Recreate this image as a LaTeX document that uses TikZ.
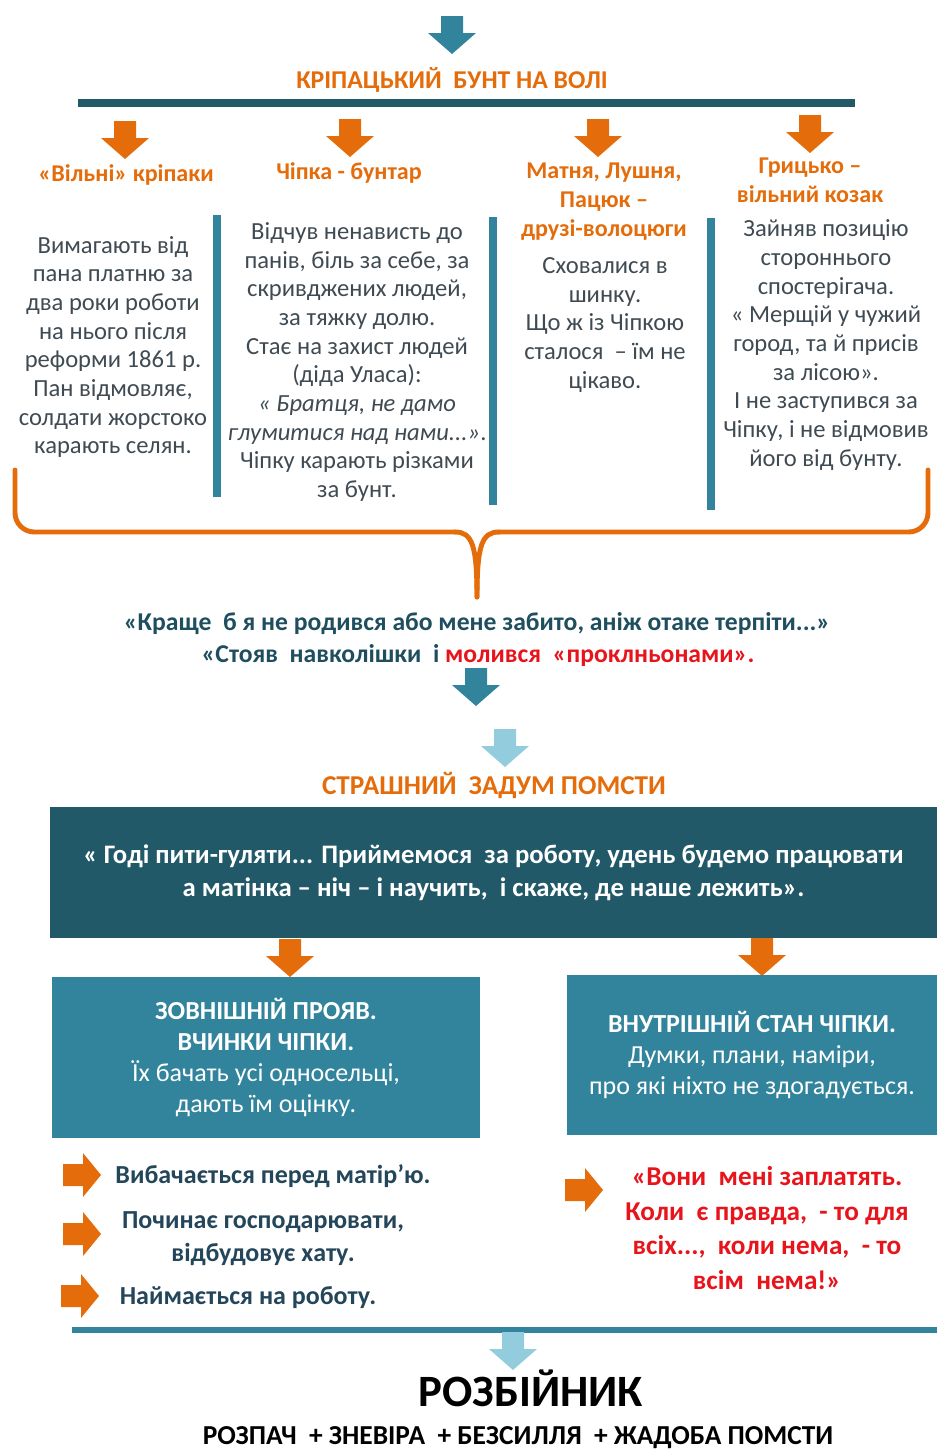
\documentclass[tikz,border=0pt]{standalone}
\usepackage{fontspec}
\setmainfont{Carlito}
\usetikzlibrary{positioning}

\definecolor{orng}{HTML}{E46C0A}
\definecolor{tealdk}{HTML}{215968}
\definecolor{tealmd}{HTML}{31849B}
\definecolor{ltblue}{HTML}{93CDDD}
\definecolor{txtgr}{HTML}{3F4A52}
\definecolor{qteal}{HTML}{1F4E5F}
\definecolor{bultx}{HTML}{24465A}
\definecolor{redq}{HTML}{E8141C}

\begin{document}
\begin{tikzpicture}[x=0.02cm,y=-0.02cm,
  hd/.style={text=orng,font=\bfseries\fontsize{13.7}{16.5}\selectfont,align=center,inner sep=0pt},
  body/.style={text=txtgr,font=\fontsize{14}{16.3}\selectfont,align=center,inner sep=0pt},
  quote/.style={text=qteal,font=\bfseries\fontsize{14.6}{18}\selectfont,inner sep=0pt},
  bultext/.style={text=bultx,font=\bfseries\fontsize{14.8}{18.7}\selectfont,align=center,inner sep=0pt},
  box/.style={fill=tealmd,text=white,align=center,inner sep=0pt,font=\fontsize{14.8}{17.6}\selectfont},
  bar/.style={tealmd,line width=4pt},
  brace/.style={orng,line width=2.8pt,line cap=round,line join=round},
  dnarr/.pic={\path[pic actions] (-11,-17) -- (11,-17) -- (11,0) -- (24,0) -- (0,21) -- (-24,0) -- (-11,0) -- cycle;},
  rtarr/.pic={\path[pic actions] (-20,-11) -- (0,-11) -- (0,-22) -- (18,0) -- (0,22) -- (0,11) -- (-20,11) -- cycle;}
]
\useasboundingbox (0,0) rectangle (937,1450);

% top of the scheme
\pic[fill=tealmd] at (452,33) {dnarr};
\node[hd,font=\bfseries\fontsize{14.6}{16.5}\selectfont] (revolt) at (452,80) {КРІПАЦЬКИЙ\ \ БУНТ НА ВОЛІ};
\coordinate (tl) at (78,103);
\coordinate (tr) at (855,103);
\draw[tealdk,line width=4pt] (tl) -- (tr);

\pic[fill=orng] at (125,138) {dnarr};
\pic[fill=orng] at (350,136) {dnarr};
\pic[fill=orng] at (598,136) {dnarr};
\pic[fill=orng] at (810,132) {dnarr};

\node[hd] (serfs) at (126,175) {«Вільні» кріпаки};
\node[hd] (chipka) at (349,173) {Чіпка - бунтар};
\node[hd] (friends) at (604,202) {Матня, Лушня,\\Пацюк –\\друзі-волоцюги};
\node[hd] (hryts) at (810,180) {Грицько –\\вільний козак};

% columns
\coordinate (b1t) at (217,215); \coordinate (b1b) at (217,497);
\coordinate (b2t) at (493,217); \coordinate (b2b) at (493,505);
\coordinate (b3t) at (711,218); \coordinate (b3b) at (711,510);
\draw[bar] (b1t) -- (b1b);
\draw[bar] (b2t) -- (b2b);
\draw[bar] (b3t) -- (b3b);

\node[body] (col1) at (113,347) {Вимагають від\\пана платню за\\два роки роботи\\на нього після\\реформи 1861 р.\\Пан відмовляє,\\солдати жорстоко\\карають селян.};
\node[body] (col2) at (357,362) {Відчув ненависть до\\панів, біль за себе, за\\скривджених людей,\\за тяжку долю.\\Стає на захист людей\\(діда Уласа):\\\textit{« Братця, не дамо}\\\textit{глумитися над нами...»}.\\Чіпку карають різками\\за бунт.};
\node[body] (col3) at (605,325) {Сховалися в\\шинку.\\Що ж із Чіпкою\\сталося\ \ – їм не\\цікаво.};
\node[body] (col4) at (826,345) {Зайняв позицію\\стороннього\\спостерігача.\\« Мерщій у чужий\\город, та й присів\\за лісою».\\І не заступився за\\Чіпку, і не відмовив\\його від бунту.};

% brace
\coordinate (brl) at (15,470);
\coordinate (brr) at (928,470);
\coordinate (brtip) at (477,597);
\draw[brace,rounded corners=11pt] (brl) -- (15,532) -- (455,532);
\draw[brace] (455,532) .. controls (472,532) and (477,545) .. (brtip);
\draw[brace,rounded corners=11pt] (brr) -- (928,532) -- (499,532);
\draw[brace] (499,532) .. controls (482,532) and (477,545) .. (brtip);

\node[quote] (q1) at (477,624) {«Краще\ \ б я не родився або мене забито, аніж отаке терпіти...»};
\node[quote] (q2) at (478,656) {«Стояв\ \ навколішки\ \ і \textcolor{redq}{молився\ \ «проклньонами».}};

\pic[fill=tealmd] at (476,685) {dnarr};
\pic[fill=ltblue] at (505,746) {dnarr};

\node[hd,font=\bfseries\fontsize{15.5}{18}\selectfont] (idea) at (494,785) {СТРАШНИЙ\ \ ЗАДУМ ПОМСТИ};

\node[box,fill=tealdk,font=\bfseries\fontsize{15.2}{18.7}\selectfont,minimum width=17.74cm,minimum height=2.62cm] (plan) at (493.5,872.5)
  {« Годі пити-гуляти... Приймемося\ \ за роботу, удень будемо працювати\\а матінка – ніч – і научить,\ \ і скаже, де наше лежить».};

\pic[fill=orng] at (290,956) {dnarr};
\pic[fill=orng] at (762,955) {dnarr};

\node[box,minimum width=8.56cm,minimum height=3.22cm] (outer) at (266,1057.5)
  {\textbf{ЗОВНІШНІЙ ПРОЯВ.}\\\textbf{ВЧИНКИ ЧІПКИ.}\\Їх бачать усі односельці,\\дають їм оцінку.};
\node[box,minimum width=7.4cm,minimum height=3.2cm] (inner) at (752,1055)
  {\textbf{ВНУТРІШНІЙ СТАН ЧІПКИ.}\\Думки, плани, наміри,\\про які ніхто не здогадується.};

% deeds
\pic[fill=orng] at (83,1175) {rtarr};
\pic[fill=orng] at (83,1234) {rtarr};
\pic[fill=orng] at (81,1296) {rtarr};
\node[bultext] (deed1) at (273,1176) {Вибачається перед матір’ю.};
\node[bultext] (deed2) at (263,1239) {Починає господарювати,\\відбудовує хату.};
\node[bultext] (deed3) at (248,1298) {Наймається на роботу.};

\pic[fill=orng] at (585,1190) {rtarr};
\node[bultext,text=redq,font=\bfseries\fontsize{15.5}{19.6}\selectfont] (threat) at (767,1228)
  {«Вони\ \ мені заплатять.\\Коли\ \ є правда,\ \ - то для\\всіх...,\ \ коли нема,\ \ - то\\всім\ \ нема!»};

% result
\coordinate (bl) at (72,1330);
\coordinate (br) at (937,1330);
\draw[tealmd,line width=3.4pt] (bl) -- (br);
\pic[fill=ltblue] at (513,1349) {dnarr};

\node[font=\bfseries\fontsize{25.5}{28}\selectfont,inner sep=0pt] (robber) at (531,1388) {РОЗБІЙНИК};
\node[font=\bfseries\fontsize{15.6}{18}\selectfont,inner sep=0pt] (sum) at (518,1438)
  {РОЗПАЧ\ \ + ЗНЕВІРА\ \ + БЕЗСИЛЛЯ\ \ + ЖАДОБА ПОМСТИ};

\end{tikzpicture}
\end{document}
